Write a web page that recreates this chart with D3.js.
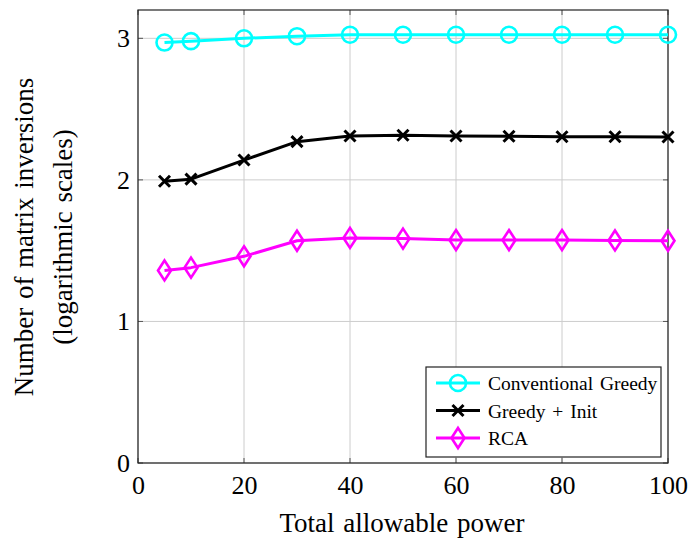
<!DOCTYPE html>
<html><head><meta charset="utf-8">
<script src="https://cdn.jsdelivr.net/npm/d3@7"></script>
<style>body{margin:0;background:#fff;} svg{display:block;}</style>
</head><body>
<svg id="c" width="689" height="538"></svg>
<script>
const xValues = [5, 10, 20, 30, 40, 50, 60, 70, 80, 90, 100];
const convGreedy = [2.97, 2.98, 3.00, 3.015, 3.025, 3.025, 3.025, 3.025, 3.025, 3.025, 3.025];
const greedyInit = [1.99, 2.005, 2.14, 2.27, 2.31, 2.315, 2.31, 2.308, 2.305, 2.305, 2.303];
const rca = [1.36, 1.38, 1.46, 1.57, 1.59, 1.585, 1.575, 1.575, 1.575, 1.572, 1.57];
const seriesNames = ["Conventional Greedy", "Greedy + Init", "RCA"];
const xTicks = [0, 20, 40, 60, 80, 100];
const yTicks = [0, 1, 2, 3];

const svg = d3.select("#c");
const L = 138, R = 668, T = 10, B = 463;
const x = d3.scaleLinear().domain([0, 100]).range([L, R]);
const y = d3.scaleLinear().domain([0, 3.2]).range([B, T]);
const font = "'Liberation Serif', 'Times New Roman', serif";

// grid
const g = svg.append("g");
g.selectAll(".gx").data(xTicks).enter().append("line")
  .attr("x1", d => x(d)).attr("x2", d => x(d)).attr("y1", T).attr("y2", B)
  .attr("stroke", "#cccccc").attr("stroke-width", 1);
g.selectAll(".gy").data(yTicks).enter().append("line")
  .attr("x1", L).attr("x2", R).attr("y1", d => y(d)).attr("y2", d => y(d))
  .attr("stroke", "#cccccc").attr("stroke-width", 1);

// ticks (inside, both sides)
const tl = 5;
xTicks.forEach(d => {
  g.append("line").attr("x1", x(d)).attr("x2", x(d)).attr("y1", B).attr("y2", B - tl).attr("stroke", "#555");
  g.append("line").attr("x1", x(d)).attr("x2", x(d)).attr("y1", T).attr("y2", T + tl).attr("stroke", "#555");
});
yTicks.forEach(d => {
  g.append("line").attr("x1", L).attr("x2", L + tl).attr("y1", y(d)).attr("y2", y(d)).attr("stroke", "#555");
  g.append("line").attr("x1", R).attr("x2", R - tl).attr("y1", y(d)).attr("y2", y(d)).attr("stroke", "#555");
});

// frame
svg.append("rect").attr("x", L).attr("y", T).attr("width", R - L).attr("height", B - T)
  .attr("fill", "none").attr("stroke", "#222").attr("stroke-width", 1.2);

// axes labels
const xAxis = d3.axisBottom(x).tickValues(xTicks).tickSize(0).tickPadding(13).tickFormat(d3.format("d"));
const xa = svg.append("g").attr("transform", `translate(0,${B})`).call(xAxis);
xa.select(".domain").remove();
xa.selectAll("text").attr("font-family", font).attr("font-size", 26).attr("fill", "#000");
const yAxis = d3.axisLeft(y).tickValues(yTicks).tickSize(0).tickPadding(8).tickFormat(d3.format("d"));
const ya = svg.append("g").attr("transform", `translate(${L},0)`).call(yAxis);
ya.select(".domain").remove();
ya.selectAll("text").attr("font-family", font).attr("font-size", 26).attr("fill", "#000");

svg.append("text").attr("x", (L + R) / 2 - 1).attr("y", 532).attr("text-anchor", "middle")
  .attr("font-family", font).attr("font-size", 27).attr("word-spacing", 2).text("Total allowable power");
const cy = 237;
svg.append("text").attr("transform", `translate(33,${cy}) rotate(-90)`).attr("text-anchor", "middle")
  .attr("font-family", font).attr("font-size", 27).attr("word-spacing", 2).text("Number of matrix inversions");
svg.append("text").attr("transform", `translate(72,${cy}) rotate(-90)`).attr("text-anchor", "middle")
  .attr("font-family", font).attr("font-size", 27).attr("word-spacing", 2).text("(logarithmic scales)");

// markers
function drawMarker(sel, type, color) {
  if (type === "circle") {
    sel.append("circle").attr("r", 8).attr("fill", "none").attr("stroke", color).attr("stroke-width", 2.6);
  } else if (type === "cross") {
    const s = 5.5;
    sel.append("path").attr("d", `M${-s},${-s}L${s},${s}M${-s},${s}L${s},${-s}`)
      .attr("stroke", color).attr("stroke-width", 3).attr("fill", "none");
  } else {
    sel.append("path").attr("d", "M0,-10L6.5,0L0,10L-6.5,0Z")
      .attr("fill", "none").attr("stroke", color).attr("stroke-width", 2.6);
  }
}

const series = [
  {name: seriesNames[0], vals: convGreedy, color: "#00ffff", marker: "circle"},
  {name: seriesNames[1], vals: greedyInit, color: "#000000", marker: "cross"},
  {name: seriesNames[2], vals: rca, color: "#ff00ff", marker: "diamond"}
];
const line = d3.line().x(d => x(d[0])).y(d => y(d[1]));
series.forEach(s => {
  const pts = xValues.map((xv, i) => [xv, s.vals[i]]);
  svg.append("path").attr("d", line(pts)).attr("fill", "none")
    .attr("stroke", s.color).attr("stroke-width", 3).attr("stroke-linejoin", "round");
  pts.forEach(p => {
    const m = svg.append("g").attr("transform", `translate(${x(p[0])},${y(p[1])})`);
    drawMarker(m, s.marker, s.color);
  });
});

// legend
const lg = svg.append("g");
lg.append("rect").attr("x", 426).attr("y", 367).attr("width", 235).attr("height", 90)
  .attr("fill", "#fff").attr("stroke", "#222").attr("stroke-width", 1.2);
series.forEach((s, i) => {
  const yy = 383 + i * 27.5;
  lg.append("line").attr("x1", 436).attr("x2", 480).attr("y1", yy).attr("y2", yy)
    .attr("stroke", s.color).attr("stroke-width", 3);
  const m = lg.append("g").attr("transform", `translate(458,${yy})`);
  drawMarker(m, s.marker, s.color);
  lg.append("text").attr("x", 488).attr("y", yy + 7).attr("font-family", font)
    .attr("font-size", 19.5).attr("word-spacing", 2).text(s.name);
});
</script>
</body></html>
